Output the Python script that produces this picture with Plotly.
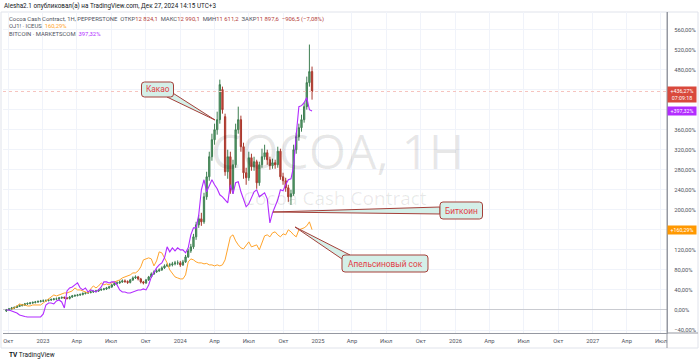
import plotly.graph_objects as go
import pandas as pd

# ---------------- data ----------------
weeks = pd.date_range("2022-09-26", periods=117, freq="7D")

cocoa_open = [-2, 0, 2, 4, 5, 7, 9, 10, 12, 13,
              14, 15, 16, 17, 18, 18, 19, 20, 21, 22,
              22, 24, 25, 24, 23, 26, 28, 29, 30, 31,
              33, 34, 35, 36, 37, 38, 40, 41, 42, 44,
              46, 50, 53, 54, 56, 58, 57, 55, 60, 64,
              66, 62, 56, 54, 60, 66, 72, 76, 78, 80,
              84, 88, 90, 90, 92, 94, 94, 90, 96, 106,
              118, 126, 146, 170, 182, 176, 226, 266, 306, 340,
              360, 380, 440, 386, 276, 306, 240, 290, 360, 380,
              326, 274, 264, 304, 286, 296, 254, 290, 306, 314,
              300, 288, 294, 290, 317, 266, 258, 244, 226, 232,
              320, 346, 364, 380, 406, 454, 476]
cocoa_high = [2, 4, 6, 7, 9, 11, 12, 14, 15, 16,
              17, 18, 19, 20, 21, 21, 22, 23, 24, 25,
              26, 27, 27, 26, 28, 30, 31, 32, 33, 35,
              36, 37, 38, 39, 40, 42, 43, 44, 46, 48,
              52, 55, 57, 59, 61, 61, 59, 62, 67, 69,
              68, 64, 58, 62, 68, 75, 79, 81, 83, 87,
              91, 93, 94, 96, 98, 99, 98, 100, 110, 122,
              132, 152, 176, 190, 194, 234, 276, 316, 352, 372,
              396, 460, 446, 392, 320, 316, 300, 372, 406, 388,
              334, 284, 316, 312, 306, 300, 296, 322, 330, 320,
              306, 302, 300, 326, 322, 274, 264, 250, 240, 330,
              354, 372, 390, 414, 466, 530, 486]
cocoa_low = [-4, -1, 1, 2, 4, 6, 7, 8, 10, 11,
             12, 13, 14, 15, 16, 16, 17, 18, 19, 20,
             20, 22, 22, 21, 21, 24, 26, 27, 28, 29,
             31, 32, 33, 34, 35, 36, 38, 39, 40, 42,
             44, 48, 51, 52, 54, 54, 52, 53, 58, 62,
             59, 53, 51, 52, 58, 64, 70, 74, 76, 78,
             82, 86, 86, 87, 89, 90, 86, 88, 94, 104,
             114, 122, 140, 164, 168, 172, 220, 258, 298, 330,
             350, 372, 392, 268, 262, 232, 232, 284, 352, 316,
             262, 250, 258, 278, 278, 242, 248, 284, 300, 290,
             280, 282, 282, 284, 260, 250, 236, 216, 210, 228,
             312, 338, 356, 374, 400, 446, 420]
cocoa_close = [0, 2, 4, 5, 7, 9, 10, 12, 13, 14,
               15, 16, 17, 18, 18, 19, 20, 21, 22, 22,
               24, 25, 24, 23, 26, 28, 29, 30, 31, 33,
               34, 35, 36, 37, 38, 40, 41, 42, 44, 46,
               50, 53, 54, 56, 58, 57, 55, 60, 64, 66,
               62, 56, 54, 60, 66, 72, 76, 78, 80, 84,
               88, 90, 90, 92, 94, 94, 90, 96, 106, 118,
               126, 146, 170, 182, 176, 226, 266, 306, 340, 360,
               380, 450, 400, 276, 306, 240, 290, 360, 380, 326,
               274, 264, 304, 286, 296, 254, 290, 306, 314, 300,
               288, 294, 290, 317, 266, 258, 244, 226, 232, 320,
               346, 364, 380, 406, 454, 476, 436.27]

bitcoin = [0, 0, -2, -4, -6, -10, -12, -13, -14, -14,
           -14, -15, -14, -14, -8, 10, 14, 14, 12, 18,
           20, 16, 4, 38, 44, 46, 50, 54, 44, 40,
           44, 36, 40, 38, 36, 40, 46, 56, 56, 54,
           56, 56, 50, 40, 36, 36, 34, 34, 36, 38,
           40, 40, 42, 40, 50, 66, 76, 84, 90, 94,
           104, 126, 116, 124, 118, 124, 120, 120, 114, 124,
           150, 164, 164, 190, 240, 260, 236, 250, 260, 250,
           242, 230, 226, 220, 214, 250, 232, 254, 256, 236,
           222, 206, 212, 226, 236, 240, 226, 230, 234, 222,
           174, 194, 206, 220, 240, 238, 250, 260, 262, 286,
           350, 406, 408, 414, 424, 400, 397.32]

oj_start = 2
orange_juice = [2, 4, 8, 12, 10, 10, 8, 8,
                10, 10, 10, 10, 14, 18, 22, 26, 30, 28,
                30, 32, 34, 34, 36, 38, 44, 40, 40, 38,
                36, 34, 42, 48, 44, 48, 54, 50, 52, 50,
                54, 56, 58, 60, 64, 66, 68, 70, 74, 74,
                78, 86, 100, 102, 104, 102, 88, 98, 116, 114,
                104, 94, 80, 72, 66, 64, 62, 62, 70, 96,
                102, 100, 96, 94, 94, 92, 93, 90, 90, 88,
                90, 88, 90, 100, 126, 146, 150, 138, 130, 124,
                122, 130, 136, 126, 128, 130, 120, 136, 148, 150,
                146, 154, 156, 150, 146, 152, 150, 160, 156, 150,
                146, 160, 162, 164, 168, 176, 160.29]

x_tick_dates = pd.date_range("2022-10-01", "2027-07-01", freq="QS")
x_tick_text = ["Окт", "2023", "Апр", "Июл", "Окт", "2024", "Апр", "Июл",
               "Окт", "2025", "Апр", "Июл", "Окт", "2026", "Апр", "Июл",
               "Окт", "2027", "Апр", "Июл"]
y_tick_vals = list(range(-40, 561, 40))
# ticks hidden behind the value badges on the price scale
y_hidden = [160, 400, 440]
y_tick_text = ["" if v in y_hidden else ("−" if v < 0 else "") + f"{abs(v)},00%"
               for v in y_tick_vals]

# ---------------- layout helpers (pixel -> paper) ----------------
W, H = 700, 363
L, R, T, B = 3, 33, 12, 30
PW, PH = W - L - R, H - T - B


def px(x):
    return (x - L) / PW


def py(y):
    return (H - B - y) / PH


FONT = "Roboto"
TXT = "#131722"
RED = "#d9493c"
PURPLE = "#b22cff"
ORANGE = "#ffa42b"

fig = go.Figure()

fig.add_trace(go.Candlestick(
    x=weeks, open=cocoa_open, high=cocoa_high, low=cocoa_low, close=cocoa_close,
    increasing=dict(line=dict(color="#3f7f52", width=1), fillcolor="#5ba06f"),
    decreasing=dict(line=dict(color="#a8382d", width=1), fillcolor="#cf4a3c"),
    whiskerwidth=0, showlegend=False, hoverinfo="skip"))
fig.add_trace(go.Scatter(x=weeks[oj_start:], y=orange_juice, mode="lines",
                         line=dict(color=ORANGE, width=1), showlegend=False))
fig.add_trace(go.Scatter(x=weeks, y=bitcoin, mode="lines",
                         line=dict(color=PURPLE, width=1.1), showlegend=False))

shapes = []
annotations = []

# frame
shapes.append(dict(type="rect", xref="paper", yref="paper",
                   x0=px(1), x1=px(698), y0=py(348), y1=py(12),
                   line=dict(color="#e0e3eb", width=1), layer="below"))
# extended axis lines
shapes.append(dict(type="line", xref="paper", yref="paper",
                   x0=1, x1=px(698), y0=0, y1=0, line=dict(color="#9598a1", width=1)))
shapes.append(dict(type="line", xref="paper", yref="paper",
                   x0=1, x1=1, y0=py(348), y1=1, line=dict(color="#9598a1", width=1)))
# last price line
shapes.append(dict(type="line", xref="paper", yref="y", x0=0, x1=1,
                   y0=cocoa_close[-1], y1=cocoa_close[-1],
                   line=dict(color="#f6c4bf", width=1, dash="dot")))

# watermark
annotations.append(dict(xref="paper", yref="paper", x=px(338), y=py(150),
                        xanchor="center", yanchor="middle",
                        text="COCOA, 1H", showarrow=False,
                        font=dict(family="Open Sans", size=48, color="rgba(0,0,0,0.09)")))
annotations.append(dict(xref="paper", yref="paper", x=px(335), y=py(198),
                        xanchor="center", yanchor="middle",
                        text="Cocoa Cash Contract", showarrow=False,
                        font=dict(family="Open Sans", size=19, color="rgba(0,0,0,0.09)")))


def rrect(x0, y0, x1, y1, r=3):
    pts = [("M", x0 + r, y0), ("L", x1 - r, y0), ("Q", x1, y0, x1, y0 + r),
           ("L", x1, y1 - r), ("Q", x1, y1, x1 - r, y1), ("L", x0 + r, y1),
           ("Q", x0, y1, x0, y1 - r), ("L", x0, y0 + r), ("Q", x0, y0, x0 + r, y0)]
    s = ""
    for p in pts:
        cmd = p[0]
        coords = p[1:]
        parts = []
        for i in range(0, len(coords), 2):
            parts.append(f"{px(coords[i]):.5f},{py(coords[i + 1]):.5f}")
        s += cmd + " ".join(parts) + " "
    return s + "Z"


def tri(a, b, c):
    return (f"M{px(a[0]):.5f},{py(a[1]):.5f} L{px(b[0]):.5f},{py(b[1]):.5f} "
            f"L{px(c[0]):.5f},{py(c[1]):.5f} Z")


CALL_FILL = "#d4efe8"
CALL_LINE = "#a5403a"
CALL_TXT = "#e23c45"

callouts = [
    ("Какао", (141.5, 82, 173.5, 97), ((167, 97), (215, 120), (173.5, 93.5))),
    ("Биткоин", (440, 202, 482.5, 219), ((440, 207), (273, 212), (440, 214))),
    ("Апельсиновый сок", (342, 255, 428, 272), ((342, 259), (295, 227), (350, 255))),
]
for text, box, tail in callouts:
    shapes.append(dict(type="path", xref="paper", yref="paper", path=tri(*tail),
                       fillcolor=CALL_FILL, line=dict(color=CALL_LINE, width=1)))
for text, box, tail in callouts:
    shapes.append(dict(type="path", xref="paper", yref="paper", path=rrect(*box),
                       fillcolor=CALL_FILL, line=dict(color=CALL_LINE, width=1)))
    annotations.append(dict(xref="paper", yref="paper",
                            x=px((box[0] + box[2]) / 2), y=py((box[1] + box[3]) / 2),
                            xanchor="center", yanchor="middle",
                            text=text, showarrow=False,
                            font=dict(family=FONT, size=8.3, color=CALL_TXT)))

# header / legend
annotations.append(dict(xref="paper", yref="paper", x=px(2), y=py(6), xanchor="left",
                        yanchor="middle", showarrow=False,
                        text="Alesha2.1 опубликовал(а) на TradingView.com, Дек 27, 2024 14:15 UTC+3",
                        font=dict(family=FONT, size=6.3, color=TXT)))
V = "#b5403a"
leg1 = ("Cocoa Cash Contract, 1H, PEPPERSTONE  ОТКР<span style='color:%s'>12 824,1</span>  "
        "МАКС<span style='color:%s'>12 990,1</span>  МИН<span style='color:%s'>11 611,2</span>  "
        "ЗАКР<span style='color:%s'>11 897,6</span>  <span style='color:%s'>−906,5 (−7,08%%)</span>"
        % (V, V, V, V, V))
annotations.append(dict(xref="paper", yref="paper", x=px(7), y=py(19), xanchor="left",
                        yanchor="middle", showarrow=False, text=leg1,
                        font=dict(family=FONT, size=5.9, color="#50535e")))
annotations.append(dict(xref="paper", yref="paper", x=px(7), y=py(26.5), xanchor="left",
                        yanchor="middle", showarrow=False,
                        text="OJ1! · ICEUS  <span style='color:%s'>160,29%%</span>" % ORANGE,
                        font=dict(family=FONT, size=5.9, color="#50535e")))
annotations.append(dict(xref="paper", yref="paper", x=px(7), y=py(34), xanchor="left",
                        yanchor="middle", showarrow=False,
                        text="BITCOIN · MARKETSCOM  <span style='color:%s'>397,32%%</span>" % PURPLE,
                        font=dict(family=FONT, size=5.9, color="#50535e")))

# right-axis value labels
annotations.append(dict(xref="paper", yref="y", x=1, y=cocoa_close[-1], xanchor="left",
                        yanchor="top", yshift=5, showarrow=False,
                        text=f"+{cocoa_close[-1]:.2f}%".replace(".", ",") + "<br>07:09:18",
                        bgcolor=RED, width=26, borderpad=1,
                        font=dict(family=FONT, size=5.3, color="white")))
annotations.append(dict(xref="paper", yref="y", x=1, y=bitcoin[-1], xanchor="left",
                        yanchor="middle", showarrow=False,
                        text=f"+{bitcoin[-1]:.2f}%".replace(".", ","),
                        bgcolor=PURPLE, width=26, borderpad=1,
                        font=dict(family=FONT, size=5.3, color="white")))
annotations.append(dict(xref="paper", yref="y", x=1, y=orange_juice[-1], xanchor="left",
                        yanchor="middle", showarrow=False,
                        text=f"+{orange_juice[-1]:.2f}%".replace(".", ","),
                        bgcolor="#ff9800", width=26, borderpad=1,
                        font=dict(family=FONT, size=5.3, color="white")))

# footer
annotations.append(dict(xref="paper", yref="paper", x=px(7), y=py(355), xanchor="left",
                        yanchor="middle", showarrow=False,
                        text="<b>TV</b> TradingView",
                        font=dict(family=FONT, size=6.5, color=TXT)))

fig.update_layout(
    width=W, height=H, margin=dict(l=L, r=R, t=T, b=B),
    paper_bgcolor="white", plot_bgcolor="white",
    shapes=shapes, annotations=annotations, showlegend=False,
    xaxis=dict(type="date", range=["2022-09-17", "2027-07-17"],
               tickmode="array", tickvals=x_tick_dates, ticktext=x_tick_text,
               showgrid=True, gridcolor="#f0f3fa", gridwidth=1,
               showline=True, linecolor="#9598a1", linewidth=1,
               ticks="", ticklabelstandoff=2,
               tickfont=dict(family=FONT, size=5.8, color="#50535e"),
               rangeslider=dict(visible=False), zeroline=False),
    yaxis=dict(side="right", range=[-46, 595], tickmode="array",
               tickvals=y_tick_vals, ticktext=y_tick_text,
               showgrid=True, gridcolor="#f0f3fa", gridwidth=1,
               zeroline=True, zerolinecolor="#c9cbd1", zerolinewidth=1,
               showline=True, linecolor="#9598a1", linewidth=1,
               ticks="", ticklabelstandoff=5,
               tickfont=dict(family=FONT, size=5.8, color="#50535e")),
)

fig.write_html("out.html")
